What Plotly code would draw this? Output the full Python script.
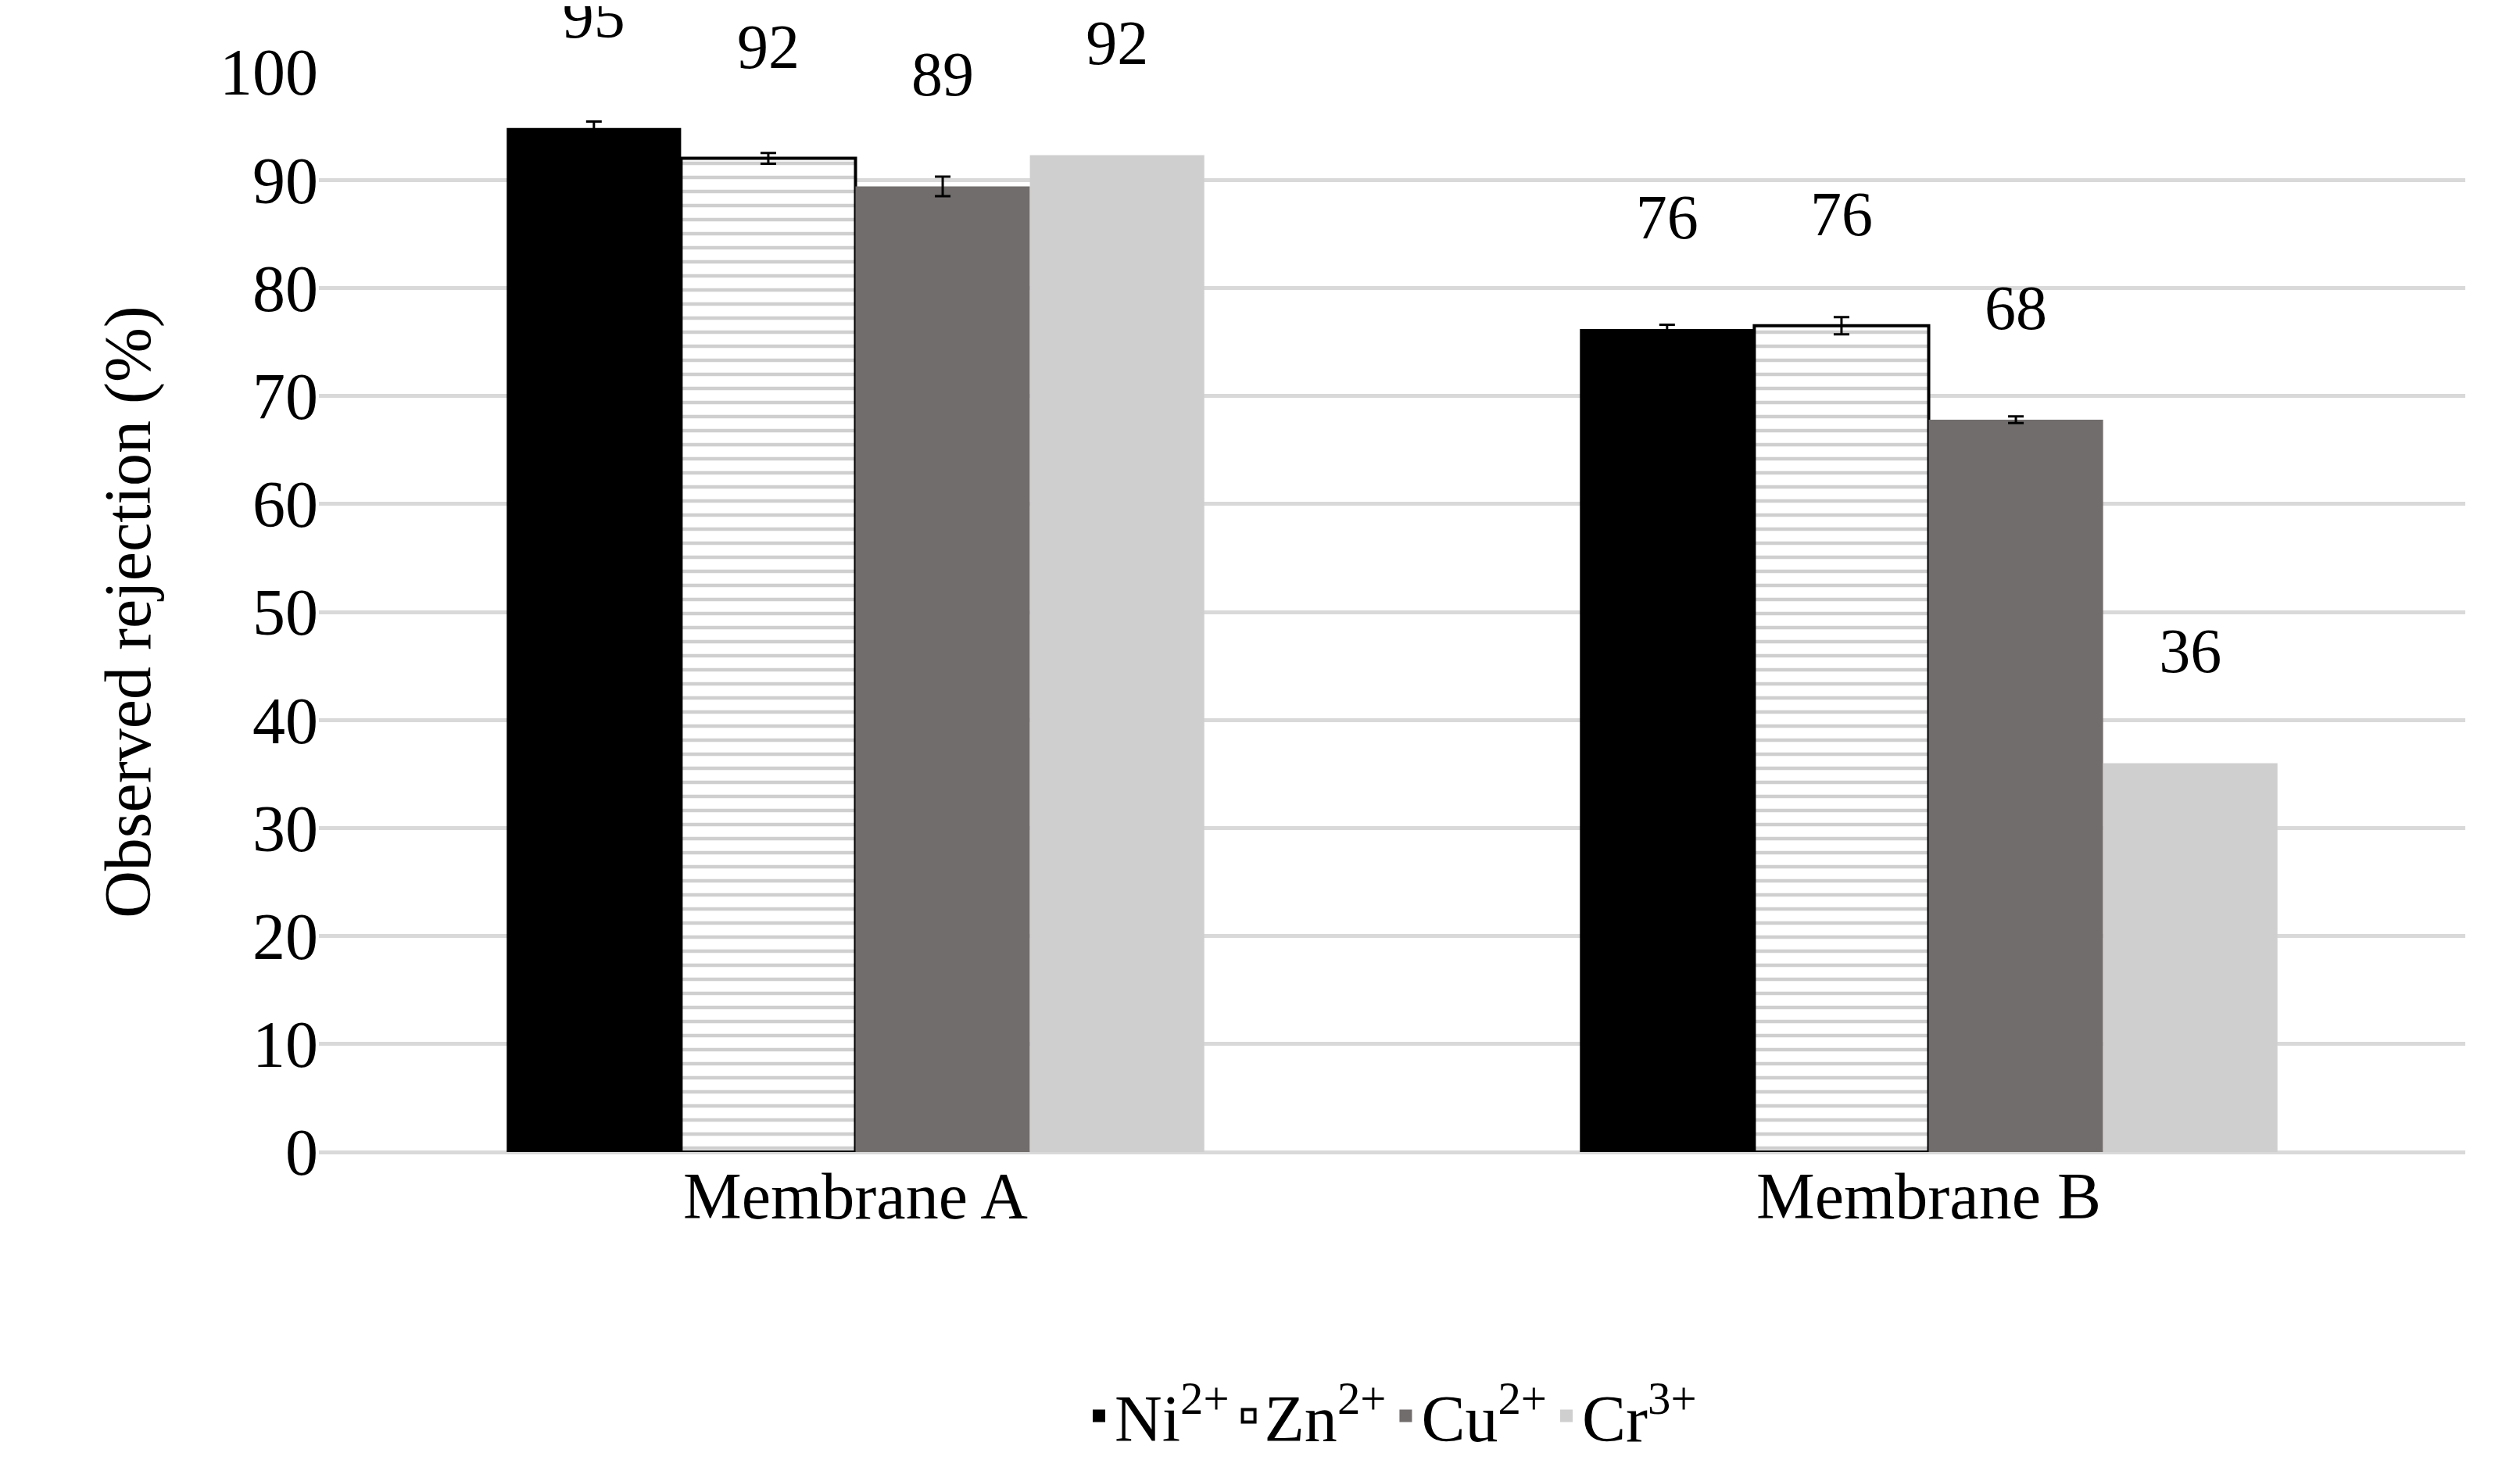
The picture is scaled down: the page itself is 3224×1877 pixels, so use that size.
import plotly.graph_objects as go

categories = ["Membrane A", "Membrane B"]
series = ["Ni<sup>2+</sup>", "Zn<sup>2+</sup>", "Cu<sup>2+</sup>", "Cr<sup>3+</sup>"]
values = [[94.8, 76.2], [92.0, 76.5], [89.4, 67.8], [92.3, 36.0]]
errors = [[0.6, 0.4], [0.5, 0.8], [0.9, 0.3], [0.0, 0.0]]
labels = [["95", "76"], ["92", "76"], ["89", "68"], ["92", "36"]]

colors = ["#000000", "#ffffff", "#706d6c", "#d0cfcf"]
F = "Liberation Serif"
fig = go.Figure()
for i, s in enumerate(series):
    marker = dict(color=colors[i], line=dict(width=0))
    if i == 1:
        marker = dict(color="white", line=dict(color="black", width=4),
                      pattern=dict(shape="-", fgcolor="#a0a0a0", bgcolor="white", size=18, solidity=0.25))
    fig.add_bar(x=categories, y=values[i], name=s, marker=marker, showlegend=False,
                error_y=dict(type="data", array=errors[i], visible=errors[i][0] > 0,
                             color="black", thickness=3, width=10),
                text=labels[i], textposition="outside", cliponaxis=False,
                texttemplate="%{text}<br><span style='font-size:40px'> </span>",
                textfont=dict(family=F, size=80, color="black"))
    lm = dict(color=colors[i], size=52, symbol="square",
              line=dict(color="black", width=4 if i == 1 else 0))
    fig.add_scatter(x=[None], y=[None], mode="markers", name=s, marker=lm)
fig.update_layout(
    width=3224, height=1877, barmode="group", bargap=0.35, bargroupgap=0,
    plot_bgcolor="white", paper_bgcolor="white",
    font=dict(family=F, size=84, color="black"),
    margin=dict(l=400, r=78, t=84, b=300),
    yaxis=dict(range=[0, 100], dtick=10, gridcolor="#d9d9d9", gridwidth=5,
               zeroline=True, zerolinecolor="#d9d9d9", zerolinewidth=5,
               title=dict(text="Observed rejection (%)", font=dict(size=84), standoff=60),
               tickfont=dict(size=84)),
    xaxis=dict(tickfont=dict(size=84), ticklen=70, tickcolor="white"),
    legend=dict(orientation="h", x=0.5, xanchor="center", y=-0.2, yanchor="top",
                font=dict(size=84), itemwidth=30, tracegroupgap=0),
)
fig.write_html("out.html")
